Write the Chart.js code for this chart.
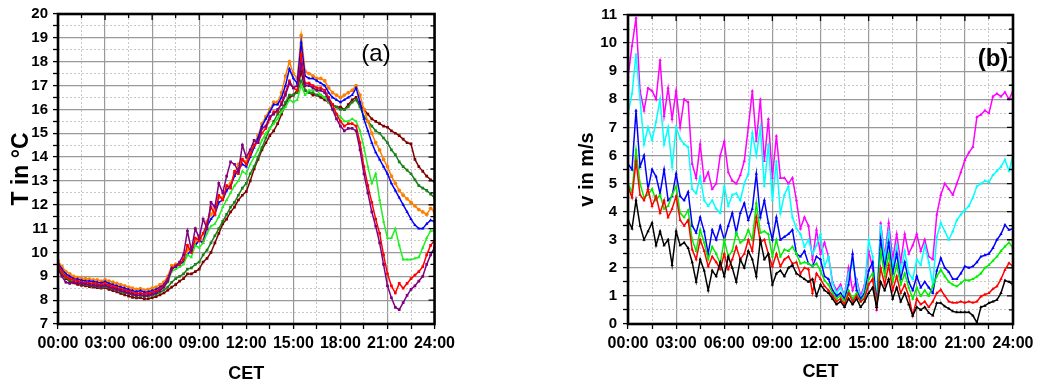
<!DOCTYPE html>
<html>
<head>
<meta charset="utf-8">
<script src="https://cdn.jsdelivr.net/npm/chart.js@4.4.1/dist/chart.umd.min.js"></script>
<style>
body { margin: 0; background: #fff; width: 1045px; height: 389px; position: relative; overflow: hidden; }
#chartA { position: absolute; left: 0; top: 0; }
#chartB { position: absolute; left: 540px; top: 0; }
</style>
</head>
<body>
<canvas id="chartA" width="460" height="389"></canvas>
<canvas id="chartB" width="505" height="389"></canvas>
<script>
// sampling grid: every 15 minutes, 00:00 .. 24:00
const hours = Array.from({ length: 97 }, (_, i) => i / 4);

// (a) temperature in degC
const tPurple = [
  9.3, 9.0, 8.75, 8.7,  8.75, 8.72, 8.7, 8.68,  8.65, 8.62, 8.6, 8.58,  8.62, 8.55, 8.5, 8.45,
  8.4, 8.35, 8.3, 8.25,  8.2, 8.22, 8.18, 8.2,  8.25, 8.3, 8.4, 8.55,  8.8, 9.3, 9.4, 9.6,
  9.9, 10.9, 10.1, 11.0,  10.6, 11.4, 11.0, 12.1,  11.9, 12.9, 12.5, 13.2,  13.8, 13.7, 13.4, 14.5,
  14.0, 14.3, 14.7, 14.6,  15.2, 15.3, 15.7, 15.8,  16.0, 16.2, 16.6, 17.1,  16.9, 17.0, 17.9, 17.0,
  17.0, 16.9, 16.8, 16.8,  16.7, 16.4, 16.0, 15.6,  15.3, 15.1, 15.2, 15.2,  15.1, 14.3, 13.3, 12.5,
  11.7, 11.1, 10.4, 9.5,  8.6, 8.1, 7.7, 7.6,  7.9, 8.2, 8.45, 8.6,  8.8, 9.0, 9.5, 9.9,  10.2
];
const tRed = [
  9.5, 9.2, 9.0, 8.9,  8.85, 8.8, 8.75, 8.75,  8.72, 8.7, 8.68, 8.65,  8.7, 8.62, 8.58, 8.52,
  8.47, 8.42, 8.38, 8.32,  8.28, 8.3, 8.25, 8.28,  8.32, 8.38, 8.48, 8.6,  8.85, 9.3, 9.45, 9.5,
  9.7, 10.3, 10.0, 10.6,  10.5, 10.8, 11.2, 11.9,  11.6, 12.4, 12.2, 12.8,  12.7, 13.4, 13.3, 13.9,
  13.7, 14.1, 14.5, 14.6,  15.0, 15.2, 15.6, 15.9,  15.9, 16.3, 16.7, 17.2,  16.9, 16.8, 18.3, 17.1,
  17.1, 17.0, 16.9, 16.9,  16.8, 16.5, 16.2, 15.8,  15.5, 15.3, 15.4, 15.4,  15.3, 14.6, 13.6, 12.8,
  12.1, 11.4, 10.8, 9.9,  9.1, 8.6, 8.3, 8.7,  8.5, 8.7, 8.9, 9.05,  9.2, 9.4, 9.9, 10.3,  10.5
];
const tGreen = [
  9.45, 9.2, 9.0, 8.9,  8.82, 8.78, 8.74, 8.72,  8.7, 8.67, 8.65, 8.62,  8.66, 8.6, 8.55, 8.5,
  8.44, 8.4, 8.35, 8.3,  8.25, 8.28, 8.22, 8.25,  8.3, 8.35, 8.45, 8.55,  8.75, 9.2, 9.3, 9.4,
  9.5, 9.9, 9.8, 10.3,  10.2, 10.4, 10.8, 11.1,  11.2, 11.5, 11.9, 12.2,  12.5, 12.8, 13.0, 13.4,
  13.3, 13.7, 14.0, 14.3,  14.7, 15.0, 15.2, 15.4,  15.6, 15.9, 16.1, 16.4,  16.3, 16.4, 17.0, 16.6,
  16.8, 16.8, 16.8, 16.6,  16.5, 16.3, 16.0, 15.8,  15.7, 15.5, 15.5, 15.6,  15.5, 15.1, 14.4, 13.6,
  12.9, 13.3, 12.2, 11.3,  10.6, 10.6, 11.0, 10.3,  9.7, 9.7, 9.7, 9.75,  9.8, 10.2, 10.6, 10.9,  10.9
];
const tBlue = [
  9.55, 9.3, 9.1, 9.0,  8.9, 8.88, 8.83, 8.8,  8.8, 8.78, 8.75, 8.72,  8.78, 8.7, 8.65, 8.6,
  8.55, 8.5, 8.45, 8.4,  8.35, 8.4, 8.33, 8.35,  8.4, 8.45, 8.55, 8.65,  8.9, 9.35, 9.4, 9.5,
  9.6, 9.9, 10.1, 10.3,  10.5, 10.4, 11.1, 11.4,  11.6, 12.1, 12.2, 12.6,  12.8, 13.2, 13.5, 13.7,
  13.6, 14.0, 14.4, 14.8,  15.3, 15.6, 15.9, 16.2,  16.2, 16.5, 17.0, 17.7,  17.3, 17.1, 18.8, 17.4,
  17.3, 17.3, 17.2, 17.1,  17.0, 16.7, 16.5, 16.4,  16.3, 16.4, 16.5, 16.6,  16.9, 16.3, 15.6, 15.1,
  14.6, 14.2, 13.9, 13.6,  13.3, 12.9, 12.6, 12.3,  12.0, 11.7, 11.4, 11.15,  11.0, 11.0, 11.2, 11.35,  11.3
];
const tOrange = [
  9.65, 9.4, 9.2, 9.1,  9.0, 8.95, 8.9, 8.9,  8.88, 8.85, 8.85, 8.8,  8.85, 8.8, 8.75, 8.7,
  8.65, 8.6, 8.55, 8.5,  8.45, 8.48, 8.42, 8.45,  8.5, 8.55, 8.65, 8.75,  9.0, 9.45, 9.5, 9.55,
  9.7, 10.1, 10.2, 10.4,  10.7, 10.5, 11.3, 11.6,  11.8, 12.3, 12.3, 12.7,  12.9, 13.3, 13.7, 13.9,
  13.8, 14.2, 14.5, 14.9,  15.4, 15.7, 16.0, 16.3,  16.3, 16.7, 17.4, 18.0,  17.5, 17.3, 19.1, 17.6,
  17.5, 17.4, 17.3, 17.3,  17.2, 16.9, 16.7, 16.6,  16.5, 16.6, 16.7, 16.8,  17.0, 16.6, 16.0, 15.5,
  15.0, 14.6, 14.3, 13.9,  13.6, 13.2, 12.9, 12.6,  12.4, 12.25, 12.1, 11.95,  11.8, 11.7, 11.6, 11.85,  11.7
];
const tDarkGreen = [
  9.4, 9.15, 8.95, 8.85,  8.78, 8.73, 8.68, 8.66,  8.63, 8.6, 8.58, 8.55,  8.58, 8.52, 8.47, 8.42,
  8.36, 8.31, 8.27, 8.22,  8.17, 8.2, 8.15, 8.17,  8.2, 8.25, 8.33, 8.42,  8.55, 8.75, 8.9, 9.0,
  9.1, 9.3, 9.35, 9.5,  9.6, 9.9, 10.1, 10.4,  10.7, 11.0, 11.3, 11.6,  11.9, 12.1, 12.4, 12.7,
  12.9, 13.3, 13.6, 14.0,  14.4, 14.8, 15.2, 15.5,  15.8, 16.0, 16.3, 16.6,  16.6, 16.7, 17.2, 16.8,
  16.7, 16.7, 16.6, 16.6,  16.5, 16.4, 16.2, 16.1,  16.0, 16.0, 16.1, 16.3,  16.4, 16.1, 15.7, 15.5,
  15.3, 15.1, 15.0, 14.8,  14.6, 14.3, 14.1, 13.8,  13.6, 13.45, 13.3, 13.05,  12.8, 12.7, 12.6, 12.45,  12.3
];
const tDarkRed = [
  9.4, 9.1, 8.9, 8.8,  8.72, 8.66, 8.62, 8.6,  8.57, 8.55, 8.52, 8.5,  8.52, 8.45, 8.4, 8.35,
  8.28, 8.22, 8.17, 8.12,  8.09, 8.1, 8.05, 8.06,  8.1, 8.15, 8.22, 8.3,  8.42, 8.55, 8.65, 8.8,
  8.9, 9.1, 9.1, 9.2,  9.3, 9.6, 9.75, 10.0,  10.4, 10.8, 11.2, 11.4,  11.7, 11.9, 12.2, 12.4,
  12.55, 13.0, 13.5, 13.9,  14.3, 14.6, 14.9, 15.1,  15.4, 15.8, 16.2, 16.5,  16.6, 16.8, 17.6, 16.8,
  16.7, 16.6, 16.6, 16.5,  16.4, 16.3, 16.2, 16.1,  16.1, 16.0, 16.2, 16.4,  16.5, 16.2, 16.0, 15.8,
  15.6, 15.5, 15.4, 15.3,  15.25, 15.1, 15.0, 14.9,  14.75, 14.6, 14.55, 13.9,  13.6, 13.4, 13.2, 13.05,  12.97
];

// (b) wind speed in m/s
const vBlack = [
  3.7, 3.4, 4.4, 3.5,  3.0, 3.3, 3.6, 2.8,  3.3, 2.8, 3.0, 2.1,  3.3, 2.8, 2.9, 2.7,
  2.2, 1.5, 2.3, 1.9,  1.2, 1.9, 1.7, 2.2,  1.7, 2.4, 2.0, 1.5,  2.3, 2.0, 2.6, 2.3,
  1.7, 3.0, 2.3, 2.5,  1.4, 1.8, 1.9, 1.7,  2.0, 2.1, 1.8, 1.7,  1.6, 1.5, 1.6, 1.0,
  1.4, 1.2, 1.1, 0.9,  0.7, 0.8, 0.6, 0.9,  0.7, 0.9, 0.6, 0.8,  1.1, 1.3, 0.6, 1.5,
  1.2, 1.6, 0.9, 1.3,  0.8, 1.1, 0.7, 0.3,  0.6, 0.5, 0.6, 0.4,  0.3, 0.75, 0.75, 0.63,
  0.55, 0.45, 0.42, 0.42,  0.42, 0.42, 0.3, 0.05,  0.6, 0.65, 0.75, 0.8,  0.86, 1.1, 1.55, 1.5,  1.4
];
const vRed = [
  4.9, 4.5, 5.8, 4.6,  4.4, 4.8, 4.2, 4.55,  3.95, 4.4, 3.8, 4.1,  4.55, 3.7, 3.5, 3.7,
  2.65, 2.3, 3.0, 2.6,  2.05, 2.4, 2.2, 1.95,  2.5, 1.95, 2.3, 2.75,  2.3, 2.5, 3.0, 2.6,
  3.8, 2.9, 3.0, 2.5,  2.05, 2.5, 2.05, 2.3,  2.4, 2.15, 2.2, 1.8,  2.0, 1.95, 1.1, 1.8,
  1.6, 1.35, 1.2, 1.0,  0.8, 0.9, 0.7, 1.1,  0.8, 1.0, 0.8, 0.9,  1.4, 1.6, 0.6, 2.0,
  1.4, 2.1, 1.2, 1.7,  1.1, 1.4, 1.0, 0.3,  0.9, 0.7, 0.8, 0.6,  0.8, 1.1, 1.22, 1.0,
  0.8, 0.76, 0.76, 0.8,  0.76, 0.8, 0.76, 0.8,  0.98, 1.05, 1.1, 1.25,  1.34, 1.6, 1.93, 2.17,  2.05
];
const vGreen = [
  5.0, 4.7, 6.2, 5.0,  4.5, 4.6, 4.8, 4.4,  4.6, 4.1, 4.2, 4.6,  4.9, 3.95, 3.8, 4.05,
  3.0, 2.6, 3.35, 2.9,  2.3, 2.75, 2.5, 2.15,  3.0, 2.4, 2.6, 3.25,  2.9, 3.0, 3.35, 3.0,
  4.3, 3.25, 3.3, 3.2,  2.4, 3.0, 2.4, 2.65,  2.6, 2.75, 2.5, 2.15,  2.2, 2.15, 2.05, 2.15,
  1.9, 1.55, 1.4, 1.1,  0.9, 1.0, 0.8, 1.2,  0.9, 1.1, 0.8, 1.0,  1.6, 1.8, 0.6, 2.6,
  1.7, 2.5, 1.5, 2.1,  1.4, 1.8, 1.3, 0.9,  1.3, 1.0, 1.2, 1.0,  1.34, 1.7, 1.93, 1.7,
  1.5, 1.4, 1.34, 1.45,  1.57, 1.55, 1.6, 1.69,  1.8, 2.0, 2.1, 2.25,  2.4, 2.6, 2.76, 2.9,  2.7
];
const vBlue = [
  5.7, 5.5, 7.6, 5.6,  6.0, 4.8, 5.5, 5.25,  4.65, 5.5, 4.4, 4.55,  5.35, 4.55, 4.4, 4.7,
  3.5, 3.25, 3.8, 3.3,  2.5, 3.35, 3.0, 3.5,  3.0, 3.5, 3.95, 3.25,  3.95, 4.3, 3.7, 4.1,
  5.35, 3.8, 4.4, 3.6,  3.0, 3.8, 3.0, 3.1,  3.2, 3.35, 2.5, 2.4,  2.6, 2.15, 2.05, 2.4,
  2.3, 1.7, 1.6, 1.2,  1.0, 1.1, 0.9, 1.4,  2.5, 1.2, 0.9, 1.1,  1.9, 2.2, 0.7, 3.0,
  2.0, 2.9, 1.8, 2.5,  1.6, 2.2, 1.5, 1.2,  1.7, 1.3, 1.5, 1.3,  1.1, 1.9, 2.34, 2.0,
  1.85, 1.6, 1.6, 1.8,  2.05, 2.0, 2.05, 2.2,  2.4, 2.45, 2.5, 2.7,  3.0, 3.2, 3.53, 3.35,  3.4
];
const vCyan = [
  7.5, 8.2, 9.6, 8.0,  6.4, 7.0, 6.55, 7.2,  8.0, 6.4, 7.0, 5.6,  7.0, 6.6, 6.4, 6.3,
  4.8, 4.65, 5.25, 4.4,  4.2, 4.4, 4.1, 3.95,  4.9, 4.2, 4.6, 4.65,  4.4, 5.0, 5.35, 6.8,
  6.0, 7.0, 4.9, 6.4,  4.4, 5.8, 3.95, 4.6,  4.9, 3.8, 3.4, 3.2,  2.75, 3.0, 2.5, 2.8,
  3.2, 2.05, 2.4, 1.45,  1.1, 1.3, 1.0, 1.8,  2.2, 1.5, 0.9, 1.3,  3.0, 2.4, 0.8, 3.5,
  2.3, 3.3, 2.0, 2.8,  1.9, 2.6, 1.8, 1.6,  2.3, 2.1, 2.8, 2.2,  1.4, 3.1, 3.6, 3.3,
  3.0, 3.3, 3.7, 3.9,  4.06, 4.2, 4.5, 4.9,  5.0, 5.1, 5.05, 5.3,  5.45, 5.6, 5.85, 5.45,  6.0
];
const vMagenta = [
  8.8, 9.9, 10.9, 8.3,  7.6, 8.4, 8.3, 8.0,  9.4, 7.4, 8.4, 7.3,  8.3, 7.0, 8.0, 7.9,
  5.7, 5.2, 6.4, 5.1,  5.4, 4.8, 5.0, 6.0,  6.5, 5.4, 5.1, 5.0,  5.3, 5.8, 7.0, 8.3,
  6.5, 8.0, 5.8, 7.3,  5.2, 6.7, 5.2, 5.2,  5.0, 5.2, 4.4, 3.4,  3.8, 3.5, 2.3, 3.35,
  2.5, 2.9, 2.4, 1.5,  1.2, 1.4, 1.0, 2.0,  1.2, 1.6, 1.0, 1.4,  2.6, 2.0, 0.5, 3.6,
  2.4, 3.6, 2.3, 3.2,  2.2, 3.2, 2.5, 2.8,  3.2, 2.6, 3.0, 2.4,  2.3, 3.9, 4.6, 5.0,
  4.8, 4.6, 5.0, 5.4,  5.84, 6.1, 6.3, 7.37,  7.45, 7.6, 7.5, 8.1,  8.2, 8.1, 8.25, 8.0,  8.3
];

const FONT = 'Arial, "Liberation Sans", sans-serif';

function pts(values) {
  return values.map((v, i) => ({ x: hours[i], y: v }));
}

function ds(values, color, style) {
  return {
    data: pts(values),
    borderColor: color,
    backgroundColor: color,
    borderWidth: 1.5,
    pointRadius: 1.9,
    pointBorderWidth: 0,
    pointStyle: style,
    tension: 0
  };
}

function isWhole(v) { return Math.abs(v - Math.round(v)) < 1e-6; }

// frame, inward ticks on top/right and the panel letter
const framePlugin = {
  id: 'frame',
  afterDraw(chart, args, opts) {
    const { ctx, chartArea: a, scales } = chart;
    ctx.save();
    ctx.strokeStyle = '#000';
    ctx.lineWidth = 1.3;
    ctx.beginPath();
    scales.x.ticks.forEach(t => {
      const px = scales.x.getPixelForValue(t.value);
      const len = t.value % 3 === 0 ? 6 : 4;
      ctx.moveTo(px, a.top); ctx.lineTo(px, a.top + len);
    });
    scales.y.ticks.forEach(t => {
      const py = scales.y.getPixelForValue(t.value);
      const len = isWhole(t.value) ? 6 : 4;
      ctx.moveTo(a.right, py); ctx.lineTo(a.right - len, py);
    });
    ctx.stroke();
    ctx.lineWidth = 2.6;
    ctx.strokeRect(a.left, a.top, a.right - a.left, a.bottom - a.top);
    ctx.fillStyle = '#000';
    ctx.font = opts.font;
    ctx.textAlign = 'center';
    ctx.textBaseline = 'middle';
    ctx.fillText(opts.text, a.left + opts.dx, a.top + opts.dy);
    ctx.restore();
  }
};

function makeChart(id, datasets, cfg) {
  return new Chart(document.getElementById(id), {
    type: 'line',
    data: { datasets: datasets },
    plugins: [framePlugin],
    options: {
      responsive: false,
      animation: false,
      devicePixelRatio: 1,
      layout: { padding: { left: 0, top: cfg.top, right: cfg.right, bottom: 0 } },
      plugins: {
        legend: { display: false },
        tooltip: { enabled: false },
        frame: cfg.label
      },
      scales: {
        x: {
          type: 'linear',
          min: 0,
          max: 24,
          afterFit: s => { s.height = 65; },
          grid: {
            color: c => (c.tick && c.tick.value % 3 === 0) ? '#999999' : '#c8c8c8',
            lineWidth: c => (c.tick && c.tick.value % 3 === 0) ? 1.2 : 1,
            tickColor: '#000',
            tickLength: 5,
            tickWidth: 1.3
          },
          border: { display: false, dash: c => (c.tick && c.tick.value % 3 !== 0) ? [2, 2] : [] },
          ticks: {
            stepSize: 1.5,
            autoSkip: false,
            maxRotation: 0,
            padding: 5,
            color: '#000',
            font: { family: FONT, size: 16, weight: 'bold' },
            callback: v => v % 3 === 0 ? String(v).padStart(2, '0') + ':00' : ''
          },
          title: {
            display: true,
            text: 'CET',
            color: '#000',
            font: { family: FONT, size: 18, weight: 'bold' },
            padding: { top: 0, bottom: cfg.xTitlePad }
          }
        },
        y: {
          min: cfg.yMin,
          max: cfg.yMax,
          afterFit: s => { s.width = cfg.yWidth; },
          grid: {
            color: c => (c.tick && isWhole(c.tick.value)) ? '#999999' : '#c8c8c8',
            lineWidth: c => (c.tick && isWhole(c.tick.value)) ? 1.2 : 1,
            tickColor: '#000',
            tickLength: 5,
            tickWidth: 1.3
          },
          border: { display: false, dash: c => (c.tick && !isWhole(c.tick.value)) ? [2, 2] : [] },
          ticks: {
            stepSize: 0.5,
            autoSkip: false,
            padding: cfg.yPad,
            color: '#000',
            font: { family: FONT, size: 15, weight: 'bold' },
            callback: v => isWhole(v) ? String(Math.round(v)) : ''
          },
          title: {
            display: true,
            text: cfg.yTitle,
            color: '#000',
            font: { family: FONT, size: cfg.yTitleSize, weight: 'bold' },
            padding: { top: cfg.yTitlePad, bottom: 0 }
          }
        }
      }
    }
  });
}

makeChart('chartA', [
  ds(tPurple, '#800080', 'rect'),
  ds(tRed, '#ff0000', 'rect'),
  ds(tGreen, '#22ee22', 'triangle'),
  ds(tBlue, '#0000ff', 'triangle'),
  ds(tOrange, '#ff8000', 'circle'),
  ds(tDarkGreen, '#1a801a', 'rect'),
  ds(tDarkRed, '#800000', 'rect')
], {
  top: 13, right: 16, yWidth: 58, yPad: 5, yMin: 7, yMax: 20,
  yTitle: 'T in °C', yTitleSize: 23, yTitlePad: 8, xTitlePad: 4,
  label: { text: '(a)', font: '24px ' + FONT, dx: 318, dy: 40 }
});

makeChart('chartB', [
  ds(vBlack, '#000000', 'triangle'),
  ds(vRed, '#ff0000', 'triangle'),
  ds(vGreen, '#00ee00', 'triangle'),
  ds(vBlue, '#0000ff', 'triangle'),
  ds(vCyan, '#00ffff', 'triangle'),
  ds(vMagenta, '#ff00ff', 'triangle')
], {
  top: 15, right: 32, yWidth: 88, yPad: 6, yMin: 0, yMax: 11,
  yTitle: 'v in m/s', yTitleSize: 20, yTitlePad: 35, xTitlePad: 6,
  label: { text: '(b)', font: 'bold 24px ' + FONT, dx: 365, dy: 44 }
});
</script>
</body>
</html>
